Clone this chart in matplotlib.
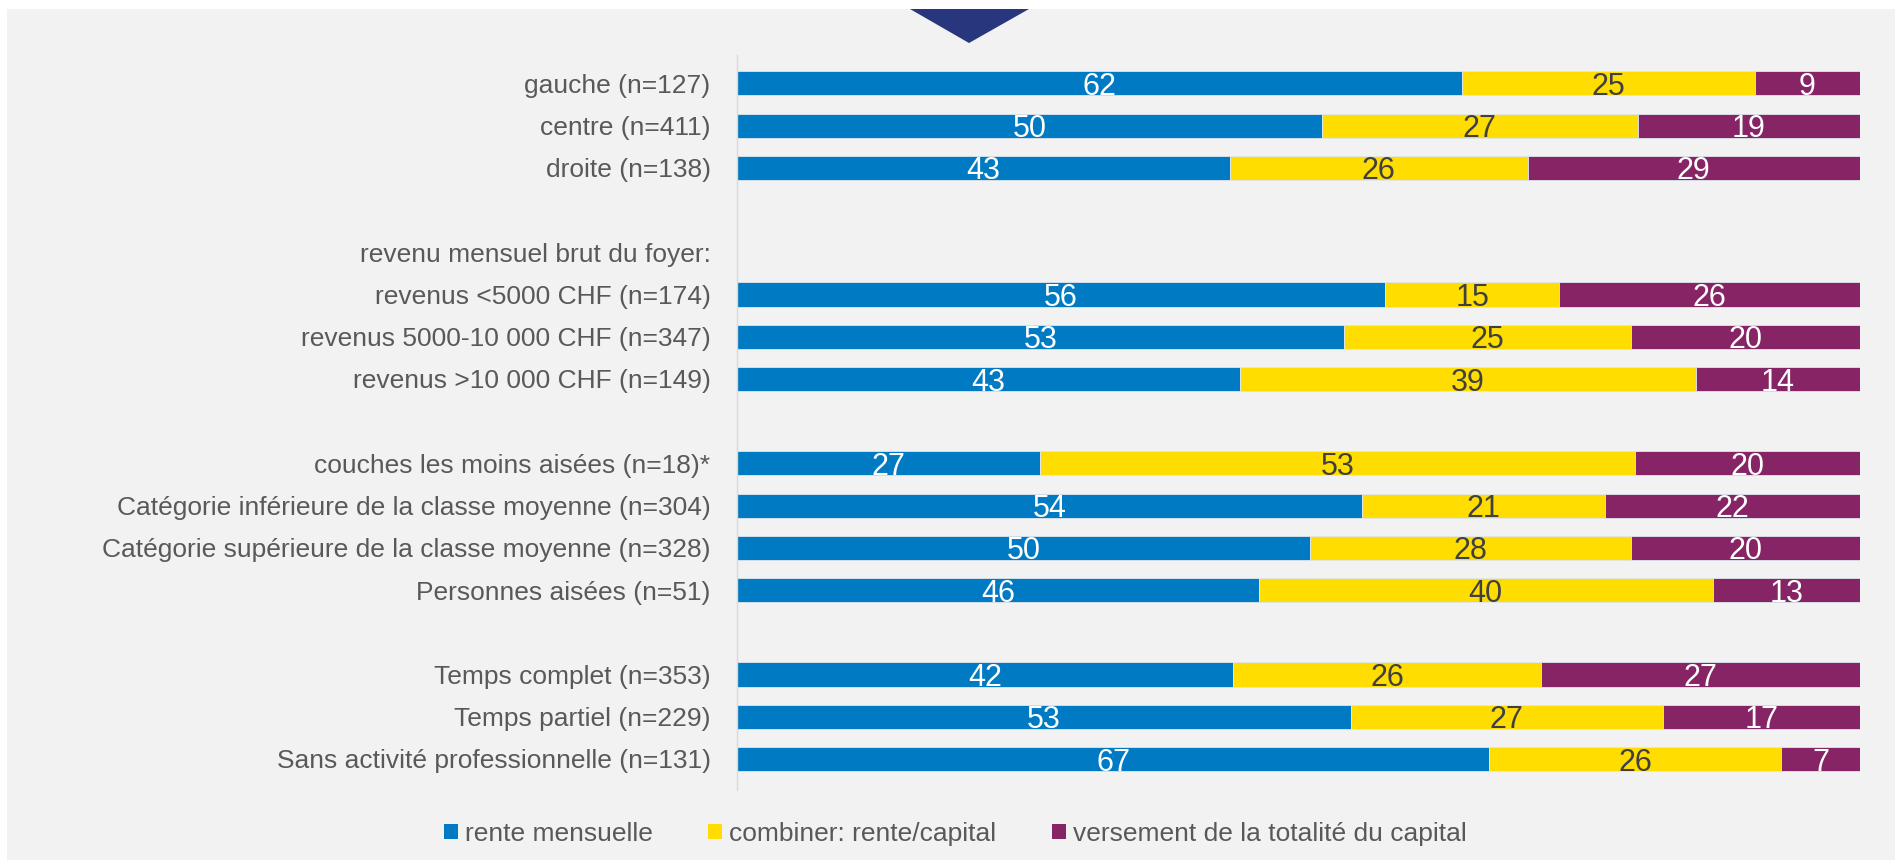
import matplotlib.pyplot as plt
from matplotlib.patches import Polygon, Rectangle
import numpy as np

plt.rcParams['font.family'] = ['Liberation Sans', 'DejaVu Sans']

# Rows top to bottom, blank strings are spacer rows
labels = ['gauche (n=127)', 'centre (n=411)', 'droite (n=138)', '',
          'revenu mensuel brut du foyer:',
          'revenus <5000 CHF (n=174)', 'revenus 5000-10 000 CHF (n=347)',
          'revenus >10 000 CHF (n=149)', '',
          'couches les moins aisées (n=18)*',
          'Catégorie inférieure de la classe moyenne (n=304)',
          'Catégorie supérieure de la classe moyenne (n=328)',
          'Personnes aisées (n=51)', '',
          'Temps complet (n=353)', 'Temps partiel (n=229)',
          'Sans activité professionnelle (n=131)']

# None = no bar on that row
rente = [62, 50, 43, None, None, 56, 53, 43, None, 27, 54, 50, 46, None, 42, 53, 67]
combi = [25, 27, 26, None, None, 15, 25, 39, None, 53, 21, 28, 40, None, 26, 27, 26]
capital = [9, 19, 29, None, None, 26, 20, 14, None, 20, 22, 20, 13, None, 27, 17, 7]

series = ['rente mensuelle', 'combiner: rente/capital', 'versement de la totalité du capital']
colors = ['#007AC3', '#FFDD00', '#862465']
text_colors = ['white', '#404040', 'white']

fig = plt.figure(figsize=(18.95, 8.6), dpi=100, facecolor='white')

# grey panel behind everything
fig.patches.append(Rectangle((7 / 1895, 0), 1 - 7 / 1895, 1 - 9 / 860,
                             transform=fig.transFigure, facecolor='#F2F2F2',
                             edgecolor='none', zorder=-10))
# navy marker at top
tri = np.array([[910, 9], [1029, 9], [969, 43]], dtype=float)
tri[:, 0] /= 1895
tri[:, 1] = 1 - tri[:, 1] / 860
fig.patches.append(Polygon(tri, closed=True, transform=fig.transFigure,
                           facecolor='#27367D', edgecolor='none'))

ax = fig.add_axes([737 / 1895, 1 - 790 / 860, (1860 - 737) / 1895, 735 / 860])
ax.set_facecolor('none')

bar_h = 0.57
y = np.arange(len(labels))
for i in range(len(labels)):
    if rente[i] is None:
        continue
    vals = [rente[i], combi[i], capital[i]]
    total = sum(vals)
    left = 0
    for k, v in enumerate(vals):
        w = v / total * 100
        ax.barh(y[i], w, left=left, height=bar_h, color=colors[k],
                edgecolor='#dfe6ee', linewidth=0.6,
                label=series[k] if i == 0 else None)
        ax.text(left + w / 2, y[i] + bar_h / 2 - 0.01, str(v), ha='center',
                va='baseline', fontsize=22, color=text_colors[k])
        left += w

ax.set_xlim(0, 100)
ax.set_ylim(16.735, -0.673)
ax.set_yticks(y)
ax.set_yticklabels(labels, fontsize=19, color='#595959')
ax.tick_params(axis='y', length=0, pad=19)
ax.set_xticks([])
for s in ['top', 'right', 'bottom']:
    ax.spines[s].set_visible(False)
ax.spines['left'].set_color('#D9D9D9')
ax.spines['left'].set_linewidth(1)

leg = fig.legend(loc='center', bbox_to_anchor=(0.504, 1 - 834 / 860), ncol=3,
                 frameon=False, fontsize=19, handlelength=0.53, handleheight=0.53,
                 handletextpad=0.27, columnspacing=2.1)
for t in leg.get_texts():
    t.set_color('#595959')
for h in leg.legend_handles:
    h.set_linewidth(0)

fig.savefig('out.png', dpi=100, facecolor='white')
